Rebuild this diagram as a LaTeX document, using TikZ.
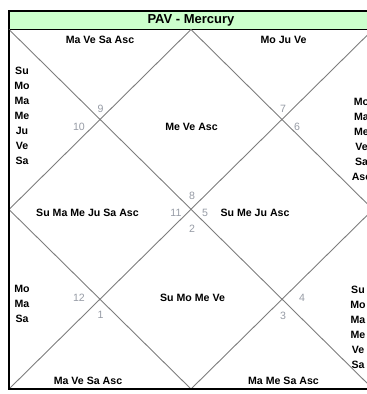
\documentclass[tikz,border=0pt]{standalone}
\usepackage{fontspec}
\setmainfont{Liberation Sans}
\definecolor{hdrfill}{RGB}{204,255,204}
\definecolor{gridline}{RGB}{125,125,125}
\definecolor{numcol}{RGB}{150,155,165}
\begin{document}
\begin{tikzpicture}[x=1pt,y=-1pt,
  pl/.style={font=\fontsize{10.6}{15}\selectfont\bfseries, inner sep=0pt, align=center},
  hnum/.style={font=\fontsize{10.6}{12}\selectfont, text=numcol, inner sep=0pt},
  gridln/.style={draw=gridline, line width=0.9pt},
  frame/.style={draw=black, line width=1.8pt}]
\useasboundingbox (0,0) rectangle (367,394);
\clip (0,0) rectangle (367,394);
% corners
\coordinate (tl) at (9,29.5);
\coordinate (tr) at (373,29.5);
\coordinate (bl) at (9,389);
\coordinate (br) at (373,389);
\coordinate (tm) at (191,29.5);
\coordinate (bm) at (191,389);
\coordinate (lm) at (9,209.5);
\coordinate (rm) at (373,209.5);
% header
\path[fill=hdrfill, draw=black, line width=1.5pt] (9,11) rectangle (380,29.5);
\node[font=\fontsize{13}{15}\selectfont\bfseries, inner sep=0pt] (title) at (191,20) {PAV - Mercury};
% grid
\draw[gridln] (tl) -- (br);
\draw[gridln] (tr) -- (bl);
\draw[gridln] (tm) -- (rm) -- (bm) -- (lm) -- cycle;
% frame
\draw[frame] (9,29.5) -- (9,389) -- (380,389);
% planets
\node[pl] (h1) at (100,40) {Ma Ve Sa Asc};
\node[pl] (h2) at (283.5,40) {Mo Ju Ve};
\node[pl] (h3) at (22,115.5) {Su\\Mo\\Ma\\Me\\Ju\\Ve\\Sa};
\node[pl] (h4) at (361.5,139) {Mo\\Ma\\Me\\Ve\\Sa\\Asc};
\node[pl] (h5) at (191.5,127) {Me Ve Asc};
\node[pl] (h6) at (87.5,212.5) {Su Ma Me Ju Sa Asc};
\node[pl] (h7) at (255,212.5) {Su Me Ju Asc};
\node[pl] (h8) at (192.5,298) {Su Mo Me Ve};
\node[pl] (h9) at (22,304) {Mo\\Ma\\Sa};
\node[pl] (h10) at (358,327.5) {Su\\Mo\\Ma\\Me\\Ve\\Sa};
\node[pl] (h11) at (88,381) {Ma Ve Sa Asc};
\node[pl] (h12) at (283.5,381) {Ma Me Sa Asc};
% house numbers
\node[hnum] (n9) at (100.5,108.5) {9};
\node[hnum] (n10) at (79,126.5) {10};
\node[hnum] (n7) at (283,108.5) {7};
\node[hnum] (n6) at (297,126.5) {6};
\node[hnum] (n8) at (192,196) {8};
\node[hnum] (n11) at (176,212.5) {11};
\node[hnum] (n5) at (205,212.5) {5};
\node[hnum] (n2) at (192,229) {2};
\node[hnum] (n12) at (79,298) {12};
\node[hnum] (n1) at (100.5,315) {1};
\node[hnum] (n4) at (302,298) {4};
\node[hnum] (n3) at (283,315.5) {3};
\end{tikzpicture}
\end{document}
